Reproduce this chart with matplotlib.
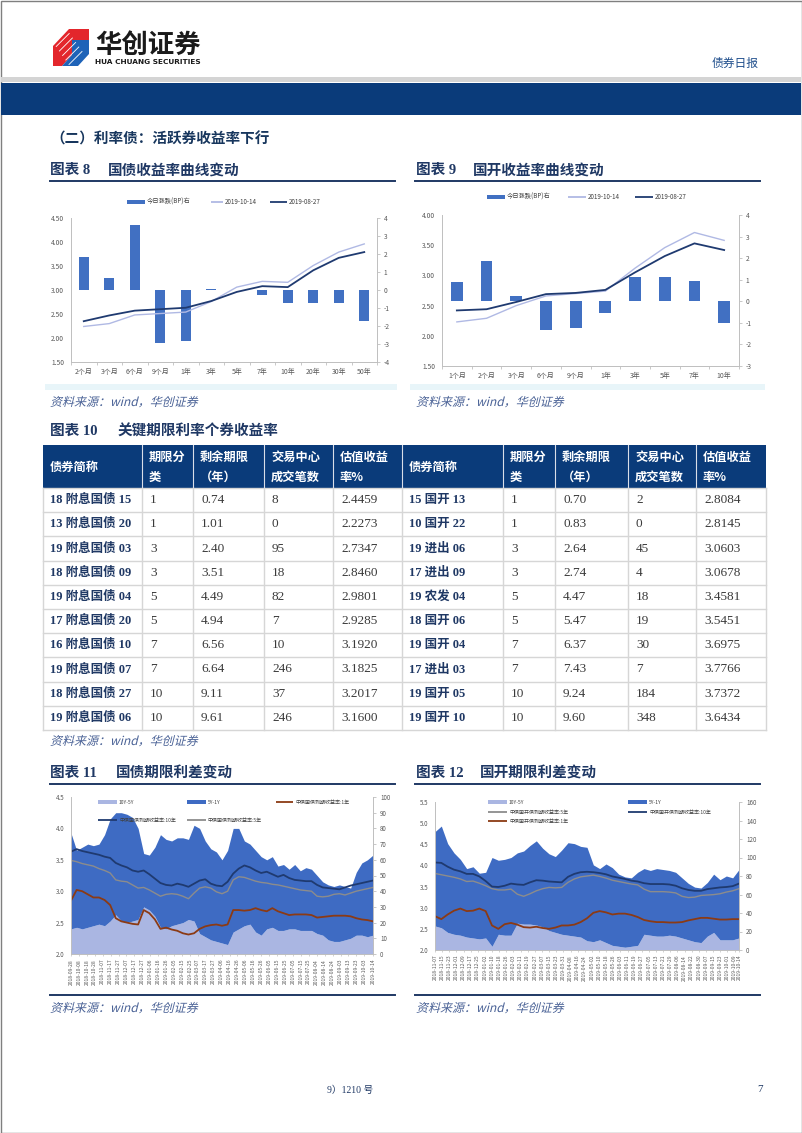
import numpy as np
import pandas as pd
import matplotlib
matplotlib.use('Agg')
import matplotlib.pyplot as plt
from matplotlib.patches import Rectangle, Polygon, PathPatch
from matplotlib.textpath import TextPath
from matplotlib.font_manager import FontProperties
from matplotlib.transforms import Affine2D

plt.rcParams['font.family'] = ['Noto Sans CJK SC', 'DejaVu Sans']
plt.rcParams['axes.unicode_minus'] = False

# ---------------- 数据 ----------------
# 图表8 国债收益率曲线
gz_terms = ['2个月', '3个月', '6个月', '9个月', '1年', '3年', '5年', '7年', '10年', '20年', '30年', '50年']
gz_chg_bp = [1.85, 0.65, 3.60, -2.93, -2.82, 0.03, 0.0, -0.28, -0.74, -0.74, -0.74, -1.70]
gz_1014 = [2.24, 2.30, 2.48, 2.51, 2.54, 2.76, 3.06, 3.18, 3.16, 3.51, 3.79, 3.96]
gz_0827 = [2.35, 2.47, 2.57, 2.60, 2.63, 2.77, 2.96, 3.08, 3.06, 3.41, 3.67, 3.79]
gz_left_ticks = [1.50, 2.00, 2.50, 3.00, 3.50, 4.00, 4.50]
gz_right_ticks = [-4, -3, -2, -1, 0, 1, 2, 3, 4]

# 图表9 国开收益率曲线
gk_terms = ['1个月', '2个月', '3个月', '6个月', '9个月', '1年', '3年', '5年', '7年', '10年']
gk_chg_bp = [0.91, 1.87, 0.26, -1.34, -1.24, -0.53, 1.13, 1.11, 0.96, -0.99]
gk_1014 = [2.23, 2.29, 2.50, 2.66, 2.70, 2.74, 3.12, 3.46, 3.71, 3.58]
gk_0827 = [2.42, 2.44, 2.56, 2.69, 2.71, 2.76, 3.05, 3.32, 3.53, 3.42]
gk_left_ticks = [1.50, 2.00, 2.50, 3.00, 3.50, 4.00]
gk_right_ticks = [-3, -2, -1, 0, 1, 2, 3, 4]

# 图表10 关键期限个券
tbl_header = ['债券简称', '期限分\n类', '剩余期限\n（年）', '交易中心\n成交笔数', '估值收益\n率%']
gz_bonds = ['18 附息国债 15', '13 附息国债 20', '19 附息国债 03', '18 附息国债 09', '19 附息国债 04',
            '17 附息国债 20', '16 附息国债 10', '19 附息国债 07', '18 附息国债 27', '19 附息国债 06']
gz_bucket = [1, 1, 3, 3, 5, 5, 7, 7, 10, 10]
gz_remain = [0.74, 1.01, 2.40, 3.51, 4.49, 4.94, 6.56, 6.64, 9.11, 9.61]
gz_trades = [8, 0, 95, 18, 82, 7, 10, 246, 37, 246]
gz_yield = [2.4459, 2.2273, 2.7347, 2.8460, 2.9801, 2.9285, 3.1920, 3.1825, 3.2017, 3.1600]
gk_bonds = ['15 国开 13', '10 国开 22', '19 进出 06', '17 进出 09', '19 农发 04',
            '18 国开 06', '19 国开 04', '17 进出 03', '19 国开 05', '19 国开 10']
gk_bucket = [1, 1, 3, 3, 5, 5, 7, 7, 10, 10]
gk_remain = [0.70, 0.83, 2.64, 2.74, 4.47, 5.47, 6.37, 7.43, 9.24, 9.60]
gk_trades = [2, 0, 45, 4, 18, 19, 30, 7, 184, 348]
gk_yield = [2.8084, 2.8145, 3.0603, 3.0678, 3.4581, 3.5451, 3.6975, 3.7766, 3.7372, 3.6434]

# 图表11 国债期限利差（周度读数）
ts11_dates = pd.date_range('2018-09-28', '2019-10-14', periods=55)
ts11_y10 = [3.63, 3.67, 3.64, 3.62, 3.60, 3.58, 3.55, 3.53, 3.45, 3.41, 3.38, 3.33, 3.31, 3.33, 3.27,
            3.20, 3.13, 3.10, 3.09, 3.12, 3.10, 3.07, 3.12, 3.17, 3.19, 3.12, 3.09, 3.08, 3.15, 3.28,
            3.36, 3.41, 3.38, 3.33, 3.29, 3.31, 3.27, 3.23, 3.26, 3.21, 3.18, 3.17, 3.16, 3.16, 3.10,
            3.06, 3.05, 3.04, 3.03, 3.06, 3.09, 3.11, 3.13, 3.15, 3.17]
ts11_y5 = [3.49, 3.47, 3.44, 3.42, 3.40, 3.36, 3.33, 3.29, 3.18, 3.16, 3.15, 3.10, 3.05, 3.06, 3.02,
           2.97, 2.92, 2.95, 2.96, 2.95, 2.92, 2.88, 2.97, 3.05, 3.07, 3.05, 2.99, 2.96, 3.00, 3.18,
           3.23, 3.22, 3.19, 3.16, 3.14, 3.13, 3.11, 3.10, 3.08, 3.06, 3.04, 3.02, 3.01, 3.00, 2.92,
           2.91, 2.92, 2.95, 2.96, 2.94, 2.97, 3.00, 3.02, 3.04, 3.06]
ts11_y1 = [2.85, 3.02, 3.00, 2.95, 2.90, 2.90, 2.86, 2.78, 2.57, 2.52, 2.50, 2.48, 2.47, 2.70, 2.65,
           2.55, 2.40, 2.42, 2.39, 2.37, 2.33, 2.31, 2.33, 2.40, 2.44, 2.46, 2.47, 2.45, 2.47, 2.70,
           2.70, 2.69, 2.70, 2.73, 2.70, 2.68, 2.73, 2.68, 2.65, 2.62, 2.63, 2.63, 2.63, 2.62, 2.58,
           2.59, 2.60, 2.61, 2.61, 2.61, 2.60, 2.57, 2.55, 2.54, 2.52]
ts11_10y5y = [16, 17, 16, 17, 18, 19, 18, 21, 25, 21, 20, 21, 22, 30, 28, 24, 17, 16, 18, 19,
              20, 22, 21, 13, 11, 9, 8, 7, 6, 14, 16, 18, 19, 14, 12, 16, 17, 15, 15, 16,
              16, 15, 15, 15, 13, 12, 9, 8, 8, 9, 10, 12, 12, 11, 12]
ts11_5y1y = [61, 49, 52, 53, 51, 51, 58, 65, 65, 69, 69, 66, 58, 34, 35, 44, 59, 57, 54, 55,
             54, 51, 61, 67, 61, 58, 57, 53, 60, 66, 64, 54, 51, 52, 50, 44, 45, 41, 42, 38,
             41, 38, 40, 39, 37, 34, 35, 35, 36, 34, 32, 40, 46, 49, 51]
ts11_left_ticks = [2.0, 2.5, 3.0, 3.5, 4.0, 4.5]
ts11_right_ticks = [0, 10, 20, 30, 40, 50, 60, 70, 80, 90, 100]

# 图表12 国开期限利差（周度读数）
ts12_dates = pd.date_range('2018-11-07', '2019-10-14', periods=49)
ts12_y10 = [4.07, 4.06, 3.97, 3.90, 3.86, 3.80, 3.80, 3.74, 3.63, 3.50, 3.49, 3.52, 3.57, 3.55, 3.54,
            3.60, 3.65, 3.64, 3.62, 3.61, 3.60, 3.73, 3.80, 3.84, 3.85, 3.84, 3.82, 3.79, 3.74, 3.71,
            3.68, 3.64, 3.62, 3.58, 3.56, 3.56, 3.56, 3.55, 3.52, 3.46, 3.42, 3.40, 3.40, 3.44, 3.46,
            3.48, 3.49, 3.51, 3.57]
ts12_y5 = [3.81, 3.78, 3.75, 3.72, 3.68, 3.62, 3.63, 3.58, 3.52, 3.45, 3.42, 3.42, 3.44, 3.32, 3.27,
           3.33, 3.40, 3.45, 3.48, 3.47, 3.48, 3.60, 3.68, 3.73, 3.75, 3.77, 3.74, 3.70, 3.65, 3.62,
           3.59, 3.56, 3.54, 3.44, 3.38, 3.38, 3.38, 3.37, 3.35, 3.27, 3.24, 3.25, 3.29, 3.30, 3.31,
           3.33, 3.37, 3.40, 3.45]
ts12_y1 = [2.80, 2.73, 2.84, 2.93, 2.98, 2.92, 2.93, 2.98, 2.92, 2.58, 2.50, 2.61, 2.64, 2.60, 2.54,
           2.53, 2.55, 2.52, 2.50, 2.53, 2.58, 2.58, 2.60, 2.66, 2.75, 2.88, 2.92, 2.89, 2.84, 2.86,
           2.86, 2.83, 2.78, 2.71, 2.68, 2.66, 2.66, 2.65, 2.65, 2.66, 2.70, 2.73, 2.76, 2.76, 2.74,
           2.72, 2.72, 2.73, 2.73]
ts12_10y5y = [26, 24, 19, 17, 16, 14, 13, 12, 13, 4, 17, 16, 16, 29, 28, 28, 27, 25, 21, 19,
              17, 16, 15, 14, 10, 9, 11, 8, 5, 4, 3, 4, 5, 17, 16, 15, 15, 16, 15, 13,
              11, 9, 8, 15, 19, 11, 11, 11, 13]
ts12_5y1y = [102, 110, 96, 88, 82, 74, 77, 71, 71, 96, 80, 82, 84, 76, 79, 85, 91, 85, 83, 82,
             91, 100, 100, 98, 101, 83, 77, 85, 84, 78, 76, 74, 79, 71, 70, 73, 72, 70, 69, 65,
             61, 59, 59, 58, 63, 65, 69, 67, 74]
ts12_left_ticks = [2.0, 2.5, 3.0, 3.5, 4.0, 4.5, 5.0, 5.5]
ts12_right_ticks = [0, 20, 40, 60, 80, 100, 120, 140, 160]

# ---------------- 样式 ----------------
W, H = 802, 1133
NAVY = '#1f3864'
BAND = '#0a3b7a'
BAR_BLUE = '#4170c2'
LIGHT_LINE = '#b0b9e4'
DARK_LINE = '#1f3a70'
GRAY_LINE = '#8c8c8c'
BROWN = '#8b3a14'
LIGHT_AREA = '#aab6e2'
DARK_AREA = '#3e6bc3'
AXIS_GRAY = '#bfbfbf'
TICK_TXT = '#595959'
SRC_COLOR = '#4a6296'
SERIF = ['Liberation Serif', 'Noto Sans CJK SC']

fig = plt.figure(figsize=(W / 100, H / 100), dpi=100)
page = fig.add_axes([0, 0, 1, 1])
page.set_xlim(0, W)
page.set_ylim(H, 0)
page.axis('off')


def px_axes(x0, y0, x1, y1):
    return fig.add_axes([x0 / W, 1 - y1 / H, (x1 - x0) / W, (y1 - y0) / H])


def italic_text(ax, x, y, s, size, color):
    tp = TextPath((0, 0), s, size=size, prop=FontProperties(family='Noto Sans CJK SC'))
    tr = Affine2D().skew_deg(14, 0).scale(1, -1).translate(x, y) + ax.transData
    ax.add_patch(PathPatch(tp, transform=tr, color=color, lw=0))


def chart_title(x, y, num, name, name_x, underline=None):
    page.text(x, y, f'图表 {num}', fontsize=10.5, fontweight='bold', color=NAVY,
              family=SERIF, va='center', ha='left')
    page.text(name_x, y, name, fontsize=10.5, fontweight='bold', color=NAVY, va='center', ha='left')
    if underline:
        page.plot(underline, [y + 11, y + 11], color=NAVY, lw=1.4)


def legend_item(ax, x, y, kind, color, w, label, size):
    if kind == 'bar':
        ax.add_patch(Rectangle((x, y - 2), w, 4, color=color, lw=0))
    else:
        ax.plot([x, x + w], [y, y], color=color, lw=1.3, solid_capstyle='butt')
    ax.text(x + w + 2, y, label, fontsize=size, color='#404040', va='center', ha='left')


def style_spines(ax, ax2):
    for s in ['top', 'right']:
        ax.spines[s].set_visible(False)
    for s in ['top', 'left', 'bottom']:
        ax2.spines[s].set_visible(False)
    for s in ['left', 'bottom']:
        ax.spines[s].set_color(AXIS_GRAY)
        ax.spines[s].set_linewidth(0.7)
    ax2.spines['right'].set_color(AXIS_GRAY)
    ax2.spines['right'].set_linewidth(0.7)


def curve_chart(x0, y0, x1, y1, terms, chg, l_new, l_old, lticks, rticks):
    ax = px_axes(x0, y0, x1, y1)
    ax2 = ax.twinx()
    ax.set_zorder(ax2.get_zorder() + 1)
    ax.patch.set_visible(False)
    idx = np.arange(len(terms))
    ax2.bar(idx, chg, width=0.4, color=BAR_BLUE)
    ax.plot(idx, l_new, color=LIGHT_LINE, lw=1.0)
    ax.plot(idx, l_old, color=DARK_LINE, lw=1.3)
    ax.set_xlim(-0.5, len(terms) - 0.5)
    ax.set_ylim(lticks[0], lticks[-1])
    ax.set_yticks(lticks)
    ax.set_yticklabels([f'{v:.2f}' for v in lticks])
    ax2.set_ylim(rticks[0], rticks[-1])
    ax2.set_yticks(rticks)
    ax.set_xticks(idx)
    ax.set_xticklabels(terms)
    ax.set_xticks(np.arange(len(terms) + 1) - 0.5, minor=True)
    ax.tick_params(axis='x', which='major', length=0, labelsize=5, labelcolor=TICK_TXT, pad=4)
    ax.tick_params(axis='x', which='minor', length=2.5, color=AXIS_GRAY, width=0.6)
    ax.tick_params(axis='y', length=0, labelsize=4.8, labelcolor=TICK_TXT, pad=5)
    ax2.tick_params(axis='y', length=2, color=AXIS_GRAY, width=0.6, labelsize=4.8,
                    labelcolor=TICK_TXT, pad=3)
    style_spines(ax, ax2)


def spread_chart(x0, y0, x1, y1, dates, s105, s51, y10, y5, y1s, lticks, rticks, tick_days):
    ax = px_axes(x0, y0, x1, y1)
    ax2 = ax.twinx()
    ax.set_zorder(ax2.get_zorder() + 1)
    ax.patch.set_visible(False)
    low = np.array(s105)
    high = low + np.array(s51)
    ax2.fill_between(dates, 0, low, color=LIGHT_AREA, lw=0)
    ax2.fill_between(dates, low, high, color=DARK_AREA, lw=0)
    ax.plot(dates, y5, color=GRAY_LINE, lw=1.0)
    ax.plot(dates, y10, color=DARK_LINE, lw=1.3)
    ax.plot(dates, y1s, color=BROWN, lw=1.3)
    ax.set_xlim(dates[0], dates[-1])
    ax.set_ylim(lticks[0], lticks[-1])
    ax.set_yticks(lticks)
    ax.set_yticklabels([f'{v:.1f}' for v in lticks])
    ax2.set_ylim(rticks[0], rticks[-1])
    ax2.set_yticks(rticks)
    ticks = list(pd.date_range(dates[0], dates[-1], freq=f'{tick_days}D'))
    if (dates[-1] - ticks[-1]).days > tick_days / 2:
        ticks.append(dates[-1])
    else:
        ticks[-1] = dates[-1]
    ax.set_xticks(ticks)
    ax.set_xticklabels([t.strftime('%Y-%m-%d') for t in ticks], rotation=90)
    ax.tick_params(axis='x', length=1.5, color=AXIS_GRAY, width=0.5, labelsize=3.6,
                   labelcolor=TICK_TXT, pad=2)
    ax.tick_params(axis='y', length=0, labelsize=4.5, labelcolor=TICK_TXT, pad=5)
    ax2.tick_params(axis='y', length=2, color=AXIS_GRAY, width=0.6, labelsize=4.5,
                    labelcolor=TICK_TXT, pad=3)
    style_spines(ax, ax2)


# ---------------- 页眉 ----------------
page.add_patch(Rectangle((0.5, 0.5), W - 1, H - 1, fill=False, ec='#7f7f7f', lw=1.0))
page.add_patch(Polygon([(53, 66), (53, 46), (69, 29), (89, 29), (89, 40), (72, 40), (72, 55), (62, 66)],
                       color='#e3262c', lw=0))
page.add_patch(Polygon([(72, 40), (89, 40), (89, 54), (78, 66), (62, 66), (72, 55)], color='#1e63b8', lw=0))
for k in range(6):
    page.plot([53 + k * 3.2, 66 + k * 3.2], [42 + k * 4.5, 29 + k * 4.5], color='white', lw=0.6)
page.text(95, 45, '华创证券', fontsize=19, fontweight='bold', color='#1a1a1a', va='center', ha='left')
page.text(95, 62, 'HUA CHUANG SECURITIES', fontsize=5.3, fontweight='bold', color='#1a1a1a',
          family='DejaVu Sans', va='center', ha='left')
page.text(712, 63, '债券日报', fontsize=8.5, color='#1f4e8c', va='center', ha='left')
page.add_patch(Rectangle((1, 77), W - 2, 5, color='#d4d4d4', lw=0))
page.add_patch(Rectangle((1, 83), W - 2, 32, color=BAND, lw=0))

page.text(50, 139, '（二）利率债：活跃券收益率下行', fontsize=10.5, fontweight='bold', color='#17365d',
          va='center', ha='left')

# ---------------- 图表 8 / 9 ----------------
chart_title(50, 170, 8, '国债收益率曲线变动', 108, underline=[50, 395])
chart_title(416, 170, 9, '国开收益率曲线变动', 473, underline=[415, 760])

curve_chart(71, 218, 377, 362, gz_terms, gz_chg_bp, gz_1014, gz_0827, gz_left_ticks, gz_right_ticks)
curve_chart(442, 215, 739, 366, gk_terms, gk_chg_bp, gk_1014, gk_0827, gk_left_ticks, gk_right_ticks)

legend_item(page, 127, 202, 'bar', BAR_BLUE, 18, '今日涨跌(BP)右', 4.5)
legend_item(page, 211, 202, 'line', LIGHT_LINE, 12, '2019-10-14', 4.5)
legend_item(page, 270, 202, 'line', DARK_LINE, 17, '2019-08-27', 4.5)
legend_item(page, 487, 197, 'bar', BAR_BLUE, 18, '今日涨跌(BP)右', 4.5)
legend_item(page, 568, 197, 'line', LIGHT_LINE, 18, '2019-10-14', 4.5)
legend_item(page, 635, 197, 'line', DARK_LINE, 18, '2019-08-27', 4.5)

page.add_patch(Rectangle((45, 384), 352, 6, color='#e8f5f9', lw=0))
page.add_patch(Rectangle((410, 384), 355, 6, color='#e8f5f9', lw=0))
italic_text(page, 50, 406, '资料来源：wind，华创证券', 12, SRC_COLOR)
italic_text(page, 416, 406, '资料来源：wind，华创证券', 12, SRC_COLOR)

# ---------------- 图表 10 表格 ----------------
chart_title(50, 431, 10, '关键期限利率个券收益率', 118)
col_x = [43, 142, 193, 264, 333, 402, 503, 555, 628, 696, 766]
head_top, head_bot, row_h = 445, 488, 24.2
n_rows = len(gz_bonds)
page.add_patch(Rectangle((col_x[0], head_top), col_x[-1] - col_x[0], head_bot - head_top, color=BAND, lw=0))
for cx in col_x[1:-1]:
    page.plot([cx, cx], [head_top, head_bot], color='#d9dee8', lw=0.8)
for i in range(n_rows + 1):
    yy = head_bot + i * row_h
    page.plot([col_x[0], col_x[-1]], [yy, yy], color='#d6d6d6', lw=1.0)
for cx in col_x:
    page.plot([cx, cx], [head_bot, head_bot + n_rows * row_h], color='#d6d6d6', lw=1.0)

for side in range(2):
    base = side * 5
    for j, hd in enumerate(tbl_header):
        lines = hd.split('\n')
        tx = col_x[base + j] + 7
        if len(lines) == 1:
            page.text(tx, 467, lines[0], fontsize=8.8, fontweight='bold', color='white', va='center')
        else:
            page.text(tx, 457, lines[0], fontsize=8.8, fontweight='bold', color='white', va='center')
            page.text(tx, 477, lines[1], fontsize=8.8, fontweight='bold', color='white', va='center')

tables = [(gz_bonds, gz_bucket, gz_remain, gz_trades, gz_yield),
          (gk_bonds, gk_bucket, gk_remain, gk_trades, gk_yield)]
for side, (names, bucket, remain, trades, yld) in enumerate(tables):
    base = side * 5
    for i in range(n_rows):
        yc = head_bot + i * row_h + row_h / 2
        page.text(col_x[base] + 7, yc, names[i], fontsize=9, fontweight='bold', color=NAVY,
                  family=SERIF, va='center')
        vals = [f'{bucket[i]}', f'{remain[i]:.2f}', f'{trades[i]}', f'{yld[i]:.4f}']
        for j, v in enumerate(vals):
            page.text(col_x[base + 1 + j] + 8, yc, v, fontsize=9.5, color='#3a3a3a',
                      family=SERIF, va='center')

italic_text(page, 50, 745, '资料来源：wind，华创证券', 12, SRC_COLOR)

# ---------------- 图表 11 / 12 ----------------
chart_title(50, 773, 11, '国债期限利差变动', 116, underline=[50, 395])
chart_title(416, 773, 12, '国开期限利差变动', 480, underline=[415, 760])

spread_chart(71, 797, 373, 954, ts11_dates, ts11_10y5y, ts11_5y1y, ts11_y10, ts11_y5, ts11_y1,
             ts11_left_ticks, ts11_right_ticks, 10)
spread_chart(435, 802, 739, 950, ts12_dates, ts12_10y5y, ts12_5y1y, ts12_y10, ts12_y5, ts12_y1,
             ts12_left_ticks, ts12_right_ticks, 8)

top = fig.add_axes([0, 0, 1, 1], facecolor='none')
top.set_xlim(0, W)
top.set_ylim(H, 0)
top.axis('off')
legend_item(top, 98, 802, 'bar', LIGHT_AREA, 19, '10Y-5Y', 3.6)
legend_item(top, 187, 802, 'bar', DARK_AREA, 19, '5Y-1Y', 3.6)
legend_item(top, 276, 802, 'line', BROWN, 17, '中债国债到期收益率:1年', 3.6)
legend_item(top, 98, 820, 'line', DARK_LINE, 19, '中债国债到期收益率:10年', 3.6)
legend_item(top, 187, 820, 'line', GRAY_LINE, 19, '中债国债到期收益率:5年', 3.6)

legend_item(top, 488, 802, 'bar', LIGHT_AREA, 19, '10Y-5Y', 3.6)
legend_item(top, 628, 802, 'bar', DARK_AREA, 19, '5Y-1Y', 3.6)
legend_item(top, 488, 812, 'line', GRAY_LINE, 19, '中债国开债到期收益率:5年', 3.6)
legend_item(top, 628, 812, 'line', DARK_LINE, 19, '中债国开债到期收益率:10年', 3.6)
legend_item(top, 488, 821, 'line', BROWN, 19, '中债国开债到期收益率:1年', 3.6)

page.plot([50, 395], [995, 995], color=NAVY, lw=1.4)
page.plot([415, 760], [995, 995], color=NAVY, lw=1.4)
italic_text(page, 50, 1012, '资料来源：wind，华创证券', 12, SRC_COLOR)
italic_text(page, 416, 1012, '资料来源：wind，华创证券', 12, SRC_COLOR)

# ---------------- 页脚 ----------------
page.text(327, 1090, '9）1210 号', fontsize=7, color=NAVY, family=SERIF, va='center', ha='left')
page.text(757, 1090, '7', fontsize=8, color=NAVY, family=SERIF, va='center', ha='left')

fig.savefig('out.png', dpi=100)
plt.close(fig)
